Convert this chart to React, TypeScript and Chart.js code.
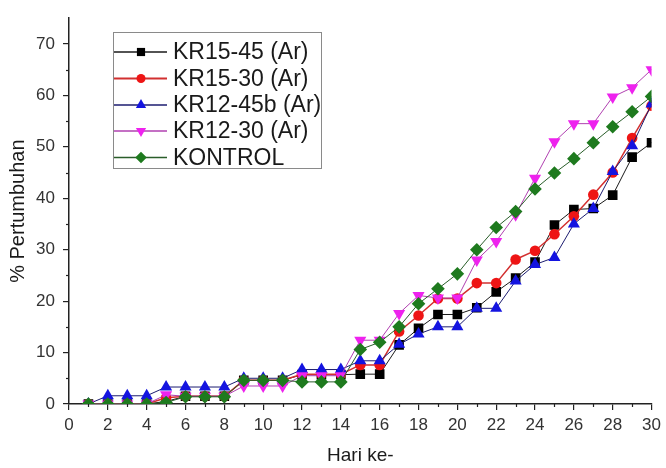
import React, { useEffect, useRef } from 'react';
import { Chart, registerables } from 'chart.js';

Chart.register(...registerables);

const days = [1, 2, 3, 4, 5, 6, 7, 8, 9, 10, 11, 12, 13, 14, 15, 16, 17, 18, 19, 20, 21, 22, 23, 24, 25, 26, 27, 28, 29, 30];

const kr1545 = [0, 0, 0, 0, 0.5, 1.5, 1.5, 1.5, 4.6, 4.6, 4.6, 5.7, 5.7, 5.7, 5.8, 5.8, 11.5, 14.7, 17.4, 17.4, 18.7, 21.8, 24.5, 27.6, 34.8, 37.8, 38.0, 40.6, 48.0, 50.8];
const kr1530 = [0, 0, 0, 0, 1.2, 1.5, 1.5, 1.5, 4.6, 4.6, 4.6, 5.8, 5.8, 5.8, 7.6, 7.6, 14.1, 17.2, 20.5, 20.5, 23.5, 23.5, 28.1, 29.8, 33.0, 36.5, 40.7, 45.0, 51.7, 58.0];
const kr1245b = [0, 1.6, 1.6, 1.6, 3.3, 3.3, 3.3, 3.3, 5.0, 5.0, 5.0, 6.7, 6.7, 6.7, 8.4, 8.4, 11.6, 13.6, 15.0, 15.0, 18.6, 18.6, 23.9, 27.1, 28.5, 35.0, 38.0, 45.2, 50.2, 58.3];
const kr1230 = [0, 0, 0, 0, 1.8, 1.5, 1.5, 1.5, 3.5, 3.5, 3.5, 5.5, 5.5, 5.5, 12.4, 12.4, 17.6, 21.1, 20.6, 20.6, 28.0, 31.6, 36.8, 43.9, 51.0, 54.5, 54.5, 59.7, 61.5, 65.0];
const kontrol = [0, 0, 0, 0, 0.3, 1.4, 1.4, 1.4, 4.6, 4.6, 4.6, 4.3, 4.3, 4.3, 10.6, 12.0, 15.0, 19.5, 22.4, 25.3, 30.0, 34.3, 37.4, 41.8, 44.9, 47.7, 50.8, 53.9, 56.8, 59.8];

const seriesNames = ['KR15-45 (Ar)', 'KR15-30 (Ar)', 'KR12-45b (Ar)', 'KR12-30 (Ar)', 'KONTROL'];
const xTickValues = [0, 2, 4, 6, 8, 10, 12, 14, 16, 18, 20, 22, 24, 26, 28, 30];
const yTickValues = [0, 10, 20, 30, 40, 50, 60, 70];

const styles = [
  { line: '#1a1a1a', fill: '#000000', shape: 'rect', radius: 6.8, rot: 0, lw: 1 },
  { line: '#d23030', fill: '#ee1515', shape: 'circle', radius: 5.3, rot: 0, lw: 1.5 },
  { line: '#1c1c70', fill: '#1414e0', shape: 'triangle', radius: 7, rot: 0, lw: 1 },
  { line: '#b040b0', fill: '#ee22ee', shape: 'triangle', radius: 7, rot: 180, lw: 1 },
  { line: '#2a5e2a', fill: '#1e7a1e', shape: 'rectRot', radius: 6.8, rot: 0, lw: 1 },
];

const allSeries = [kr1545, kr1530, kr1245b, kr1230, kontrol];

function drawMarker(ctx: CanvasRenderingContext2D, shape: string, x: number, y: number, r: number, rot: number, color: string) {
  ctx.save();
  ctx.fillStyle = color;
  ctx.translate(x, y);
  ctx.rotate((rot * Math.PI) / 180);
  ctx.beginPath();
  if (shape === 'rect') {
    const s = r * Math.SQRT1_2;
    ctx.rect(-s, -s, 2 * s, 2 * s);
  } else if (shape === 'circle') {
    ctx.arc(0, 0, r, 0, Math.PI * 2);
  } else if (shape === 'triangle') {
    ctx.moveTo(0, -r);
    ctx.lineTo(r * Math.sin(Math.PI * 2 / 3), -r * Math.cos(Math.PI * 2 / 3));
    ctx.lineTo(-r * Math.sin(Math.PI * 2 / 3), -r * Math.cos(Math.PI * 2 / 3));
    ctx.closePath();
  } else if (shape === 'rectRot') {
    ctx.moveTo(0, -r);
    ctx.lineTo(r, 0);
    ctx.lineTo(0, r);
    ctx.lineTo(-r, 0);
    ctx.closePath();
  }
  ctx.fill();
  ctx.restore();
}

const extrasPlugin = {
  id: 'extras',
  afterDraw(chart: any) {
    const ctx: CanvasRenderingContext2D = chart.ctx;
    const xs = chart.scales.x;
    const ys = chart.scales.y;
    const area = chart.chartArea;
    ctx.save();
    ctx.strokeStyle = '#222';
    ctx.lineWidth = 1.2;
    // minor ticks
    for (let v = 5; v < 75; v += 10) {
      const py = Math.round(ys.getPixelForValue(v)) + 0.5;
      ctx.beginPath();
      ctx.moveTo(area.left, py);
      ctx.lineTo(area.left - 3, py);
      ctx.stroke();
    }
    for (let v = 1; v < 30; v += 2) {
      const px = Math.round(xs.getPixelForValue(v)) + 0.5;
      ctx.beginPath();
      ctx.moveTo(px, area.bottom);
      ctx.lineTo(px, area.bottom + 3);
      ctx.stroke();
    }
    // legend
    const bx = 113.5, by = 32.5, bw = 208, bh = 136;
    ctx.strokeStyle = '#8a8a8a';
    ctx.lineWidth = 1;
    ctx.strokeRect(bx, by, bw, bh);
    const rowY = [52, 78.5, 105, 131, 157.5];
    ctx.font = '23px "Liberation Sans", Arial, sans-serif';
    ctx.textBaseline = 'middle';
    ctx.textAlign = 'left';
    seriesNames.forEach((name, i) => {
      const st = styles[i];
      const y = rowY[i];
      ctx.strokeStyle = st.line;
      ctx.lineWidth = st.lw + 0.3;
      ctx.beginPath();
      ctx.moveTo(114, y);
      ctx.lineTo(167, y);
      ctx.stroke();
      drawMarker(ctx, st.shape, 141, y, st.radius * 0.85, st.rot, st.fill);
      ctx.fillStyle = '#1a1a1a';
      ctx.fillText(name, 173, y + 1);
    });
    ctx.restore();
  },
};

export default function App() {
  const ref = useRef<HTMLCanvasElement>(null);
  useEffect(() => {
    if (!ref.current) return;
    const datasets = allSeries.map((arr, i) => {
      const st = styles[i];
      return {
        label: seriesNames[i],
        data: days.map((d, j) => ({ x: d, y: arr[j] })),
        borderColor: st.line,
        backgroundColor: st.fill,
        borderWidth: st.lw,
        pointStyle: st.shape,
        pointRadius: st.radius,
        pointRotation: st.rot,
        pointBackgroundColor: st.fill,
        pointBorderColor: st.fill,
        pointBorderWidth: 0,
        tension: 0,
        order: 4 - i,
      };
    });
    const chart = new Chart(ref.current, {
      type: 'line',
      data: { datasets: datasets as any },
      options: {
        animation: false,
        responsive: false,
        devicePixelRatio: 1,
        layout: { padding: { left: 0, right: 12, top: 8, bottom: 0 } },
        plugins: { legend: { display: false }, tooltip: { enabled: false } },
        scales: {
          x: {
            type: 'linear',
            min: 0,
            max: 30,
            afterFit: (s: any) => { s.height = 64; },
            afterBuildTicks: (s: any) => { s.ticks = xTickValues.map((v) => ({ value: v })); },
            ticks: {
              stepSize: 2,
              autoSkip: false,
              maxRotation: 0,
              padding: 5,
              color: '#333',
              font: { family: '"Liberation Sans", Arial, sans-serif', size: 17 },
            },
            grid: { display: true, drawOnChartArea: false, drawTicks: true, tickLength: 6, color: '#222', lineWidth: 1.2 },
            border: { display: true, color: '#222', width: 1.5 },
            title: {
              display: true,
              text: 'Hari ke-',
              color: '#1a1a1a',
              font: { family: '"Liberation Sans", Arial, sans-serif', size: 19 },
              padding: { top: 0, bottom: 1 },
            },
          },
          y: {
            min: 0,
            max: 75,
            afterFit: (s: any) => { s.width = 69; },
            afterBuildTicks: (s: any) => { s.ticks = yTickValues.map((v) => ({ value: v })); },
            ticks: {
              stepSize: 10,
              includeBounds: false,
              padding: 8,
              color: '#333',
              font: { family: '"Liberation Sans", Arial, sans-serif', size: 17 },
            },
            grid: { display: true, drawOnChartArea: false, drawTicks: true, tickLength: 6, color: '#222', lineWidth: 1.2 },
            border: { display: true, color: '#222', width: 1.5 },
            title: {
              display: true,
              text: '% Pertumbuhan',
              color: '#1a1a1a',
              font: { family: '"Liberation Sans", Arial, sans-serif', size: 20 },
              padding: { top: 6, bottom: 0 },
            },
          },
        },
      },
      plugins: [extrasPlugin],
    });
    return () => chart.destroy();
  }, []);
  return (
    <div style={{ position: 'absolute', left: 0, top: 0, width: 666, height: 468, background: '#fff' }}>
      <canvas ref={ref} width={666} height={468} style={{ width: 666, height: 468, display: 'block' }} />
    </div>
  );
}
